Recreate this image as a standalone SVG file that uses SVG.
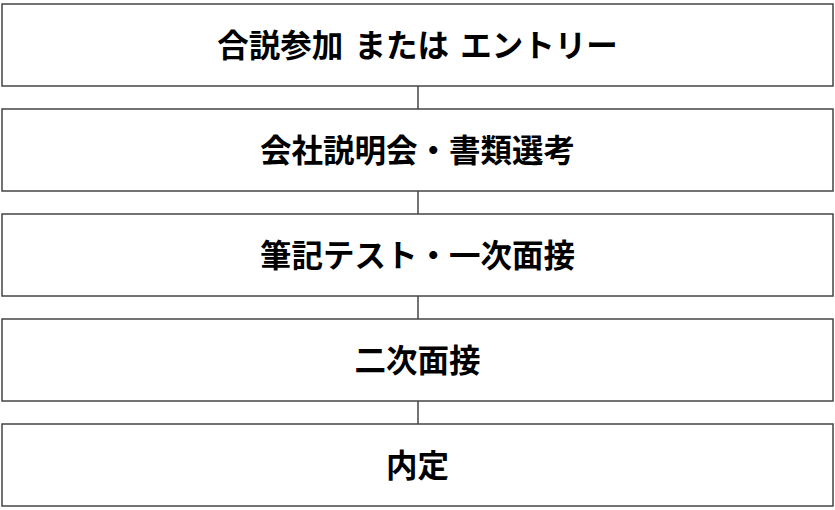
<svg xmlns="http://www.w3.org/2000/svg" width="835" height="510" viewBox="0 0 835 510">
<style>
.box{fill:#fff;stroke:#444;stroke-width:1.5}
.lbl{font-family:"Noto Sans CJK JP","Noto Sans",sans-serif;font-weight:bold;font-size:31.5px;fill:#000;text-anchor:middle;dominant-baseline:central}
.conn{stroke:#444;stroke-width:1.5;fill:none}
</style>
<rect width="835" height="510" fill="#fff"/>
<g id="connectors">
<line class="conn" x1="418" y1="86" x2="418" y2="109"/>
<line class="conn" x1="418" y1="191" x2="418" y2="214"/>
<line class="conn" x1="418" y1="296" x2="418" y2="319"/>
<line class="conn" x1="418" y1="401" x2="418" y2="424"/>
</g>
<g id="n1"><rect class="box" x="2" y="4" width="831" height="82"/><text class="lbl" x="417.5" y="43" xml:space="preserve" word-spacing="4">合説参加 または エントリー</text></g>
<g id="n2"><rect class="box" x="2" y="109" width="831" height="82"/><text class="lbl" x="417.5" y="148">会社説明会・書類選考</text></g>
<g id="n3"><rect class="box" x="2" y="214" width="831" height="82"/><text class="lbl" x="417.5" y="253">筆記テスト・一次面接</text></g>
<g id="n4"><rect class="box" x="2" y="319" width="831" height="82"/><text class="lbl" x="417.5" y="358">二次面接</text></g>
<g id="n5"><rect class="box" x="2" y="424" width="831" height="82"/><text class="lbl" x="417.5" y="463">内定</text></g>
</svg>
